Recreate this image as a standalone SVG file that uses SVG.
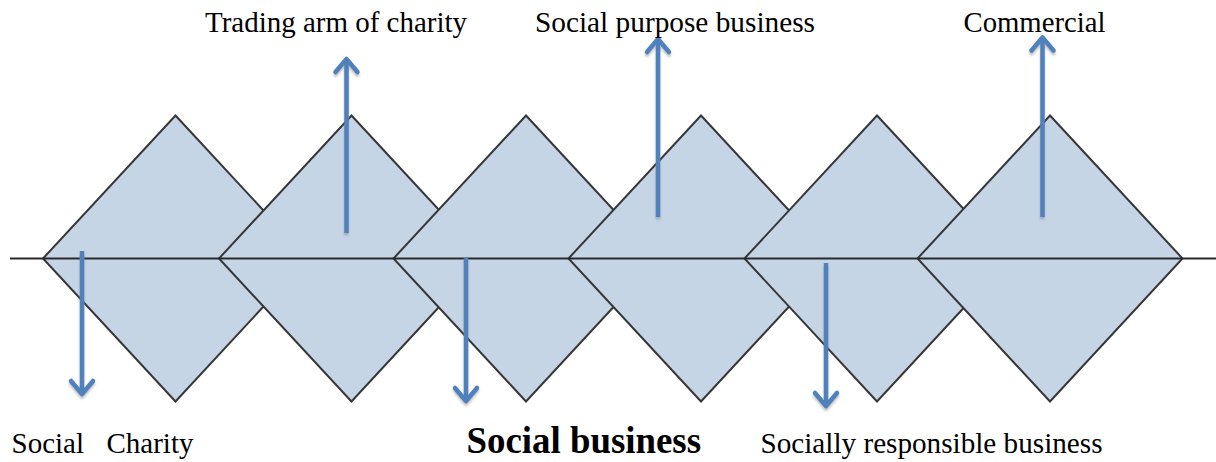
<svg xmlns="http://www.w3.org/2000/svg" width="1216" height="462" viewBox="0 0 1216 462">
  <style>
    .dia { fill: #c5d5e6; stroke: #363636; stroke-width: 2; stroke-linejoin: miter; }
    .axis { stroke: #2a2a2a; stroke-width: 2.2; fill: none; }
    .arr { stroke: #4f81bd; stroke-width: 4.5; fill: none; stroke-linecap: butt; marker-end: url(#head); }
    .lbl { font-family: "Liberation Serif", "Times New Roman", serif; font-size: 29px; fill: #000; }
    .big { font-family: "Liberation Serif", "Times New Roman", serif; font-size: 37px; font-weight: bold; fill: #000; }
  </style>
  <defs>
    <marker id="head" markerUnits="userSpaceOnUse" markerWidth="40" markerHeight="40" viewBox="-20 -20 40 40" refX="0" refY="0" orient="auto" overflow="visible">
      <path d="M-13,-11 L0,0 L-13,11" fill="none" stroke="#4f81bd" stroke-width="4.5" stroke-linecap="round" stroke-linejoin="round"/>
    </marker>
    <filter id="sh" x="-50%" y="-10%" width="200%" height="120%">
      <feDropShadow dx="0" dy="2.5" stdDeviation="0.8" flood-color="#808080" flood-opacity="0.5"/>
    </filter>
  </defs>

  <g id="diamond1"><polygon class="dia" points="175.5,115.5 308,258.5 175.5,401.5 43,258.5"/></g>
  <g id="diamond2"><polygon class="dia" points="351.5,115.5 484,258.5 351.5,401.5 219,258.5"/></g>
  <g id="diamond3"><polygon class="dia" points="526,115.5 658.5,258.5 526,401.5 393.5,258.5"/></g>
  <g id="diamond4"><polygon class="dia" points="701,115.5 833.5,258.5 701,401.5 568.5,258.5"/></g>
  <g id="diamond5"><polygon class="dia" points="877,115.5 1009.5,258.5 877,401.5 744.5,258.5"/></g>
  <g id="diamond6"><polygon class="dia" points="1050,115.5 1182.5,258.5 1050,401.5 917.5,258.5"/></g>

  <g id="axis"><line class="axis" x1="10" y1="258.5" x2="1216" y2="258.5"/></g>

  <g id="connectors" filter="url(#sh)">
    <line class="arr" x1="82" y1="251" x2="82" y2="394"/>
    <line class="arr" x1="346.5" y1="233" x2="346.5" y2="59"/>
    <line class="arr" x1="466" y1="258" x2="466" y2="401"/>
    <line class="arr" x1="658" y1="217" x2="658" y2="39"/>
    <line class="arr" x1="826" y1="263" x2="826" y2="406"/>
    <line class="arr" x1="1042.5" y1="217" x2="1042.5" y2="37.5"/>
  </g>

  <g id="label-trading"><text class="lbl" x="205" y="32" textLength="262" lengthAdjust="spacingAndGlyphs">Trading arm of charity</text></g>
  <g id="label-social-purpose"><text class="lbl" x="535" y="32" textLength="280" lengthAdjust="spacingAndGlyphs">Social purpose business</text></g>
  <g id="label-commercial"><text class="lbl" x="963.5" y="32" textLength="142" lengthAdjust="spacingAndGlyphs">Commercial</text></g>
  <g id="label-social-charity"><text class="lbl" y="453"><tspan x="11.5">Social</tspan><tspan x="106.5">Charity</tspan></text></g>
  <g id="label-social-business"><text class="big" x="466.5" y="453" textLength="234.5" lengthAdjust="spacingAndGlyphs">Social business</text></g>
  <g id="label-socially-responsible"><text class="lbl" x="760.5" y="452.5" textLength="342" lengthAdjust="spacingAndGlyphs">Socially responsible business</text></g>
</svg>
